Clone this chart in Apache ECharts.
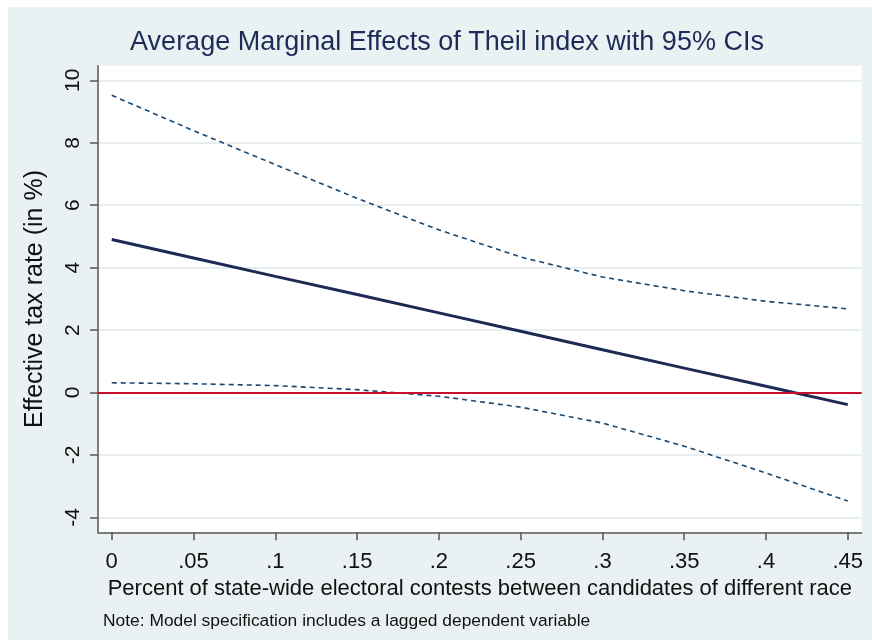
<!DOCTYPE html>
<html>
<head>
<meta charset="utf-8">
<script src="https://cdn.jsdelivr.net/npm/echarts@6/dist/echarts.min.js"></script>
<style>
  html, body { margin: 0; padding: 0; background: #ffffff; }
  #chart { position: absolute; left: 8px; top: 7px; width: 864px; height: 633px; }
</style>
</head>
<body>
<div id="chart"></div>
<script>
// Share of contests between candidates of different race (x positions)
const xValues = [0, 0.05, 0.10, 0.15, 0.20, 0.25, 0.30, 0.35, 0.40, 0.45];
const xTickLabels = ['0', '.05', '.1', '.15', '.2', '.25', '.3', '.35', '.4', '.45'];
const yTickValues = [-4, -2, 0, 2, 4, 6, 8, 10];

// Average marginal effect and its 95% confidence bounds
const effect  = [4.90, 4.31, 3.72, 3.14, 2.55, 1.96, 1.37, 0.78, 0.20, -0.39];
const upperCI = [9.52, 8.39, 7.30, 6.22, 5.21, 4.34, 3.70, 3.26, 2.92, 2.68];
const lowerCI = [0.31, 0.28, 0.22, 0.09, -0.12, -0.47, -0.98, -1.72, -2.58, -3.48];

const FONT = 'Liberation Sans, Arial, sans-serif';

function pairs(ys) {
  return xValues.map((x, i) => [x, ys[i]]);
}

function xLabel(v) {
  for (let i = 0; i < xValues.length; i++) {
    if (Math.abs(xValues[i] - v) < 1e-9) return xTickLabels[i];
  }
  return '';
}

const chart = echarts.init(document.getElementById('chart'), null, { renderer: 'canvas' });

chart.setOption({
  animation: false,
  backgroundColor: '#EAF1F3',
  title: [
    {
      text: 'Average Marginal Effects of Theil index with 95% CIs',
      left: 439,
      top: 22,
      textAlign: 'center',
      padding: 0,
      textStyle: { fontFamily: FONT, fontSize: 27, fontWeight: 'normal', color: '#1C2B58' }
    },
    {
      text: 'Note: Model specification includes a lagged dependent variable',
      left: 95,
      top: 606,
      padding: 0,
      textStyle: { fontFamily: FONT, fontSize: 17.4, fontWeight: 'normal', color: '#111111' }
    }
  ],
  grid: {
    left: 90,
    top: 58.7,
    right: 10.3,
    bottom: 107.7,
    show: true,
    backgroundColor: '#ffffff',
    borderWidth: 0
  },
  xAxis: {
    type: 'value',
    min: -0.0084,
    max: 0.4585,
    name: 'Percent of state-wide electoral contests between candidates of different race',
    nameLocation: 'middle',
    nameGap: 44,
    nameTextStyle: { fontFamily: FONT, fontSize: 22, color: '#111111' },
    axisLine: { show: true, onZero: false, lineStyle: { color: '#555555', width: 1.5 } },
    axisTick: { show: true, customValues: xValues, length: 8, lineStyle: { color: '#555555', width: 1.5 } },
    axisLabel: {
      customValues: xValues,
      formatter: xLabel,
      margin: 19,
      fontFamily: FONT,
      fontSize: 22,
      color: '#111111'
    },
    splitLine: { show: false }
  },
  yAxis: {
    type: 'value',
    min: -4.48,
    max: 10.47,
    name: 'Effective tax rate (in %)',
    nameLocation: 'middle',
    nameGap: 50,
    nameTextStyle: { fontFamily: FONT, fontSize: 25, color: '#111111' },
    axisLine: { show: true, onZero: false, lineStyle: { color: '#555555', width: 1.5 } },
    axisTick: { show: true, customValues: yTickValues, length: 8, lineStyle: { color: '#555555', width: 1.5 } },
    axisLabel: {
      customValues: yTickValues,
      rotate: 90,
      margin: 14,
      fontFamily: FONT,
      fontSize: 21,
      color: '#111111'
    },
    splitLine: { show: true, lineStyle: { color: '#E6EEF1', width: 2 } }
  },
  series: [
    {
      name: 'zero',
      type: 'line',
      data: [],
      z: 1,
      silent: true,
      markLine: {
        silent: true,
        symbol: 'none',
        label: { show: false },
        lineStyle: { color: '#C8102E', width: 2.2, type: 'solid' },
        data: [{ yAxis: 0 }]
      }
    },
    {
      name: 'upper',
      type: 'line',
      data: pairs(upperCI),
      z: 3,
      symbol: 'none',
      silent: true,
      lineStyle: { color: '#1A476F', width: 1.6, type: [5, 4] }
    },
    {
      name: 'lower',
      type: 'line',
      data: pairs(lowerCI),
      z: 3,
      symbol: 'none',
      silent: true,
      lineStyle: { color: '#1A476F', width: 1.6, type: [5, 4] }
    },
    {
      name: 'effect',
      type: 'line',
      data: pairs(effect),
      z: 4,
      symbol: 'none',
      silent: true,
      lineStyle: { color: '#1C2A55', width: 3 }
    }
  ]
});
</script>
</body>
</html>
